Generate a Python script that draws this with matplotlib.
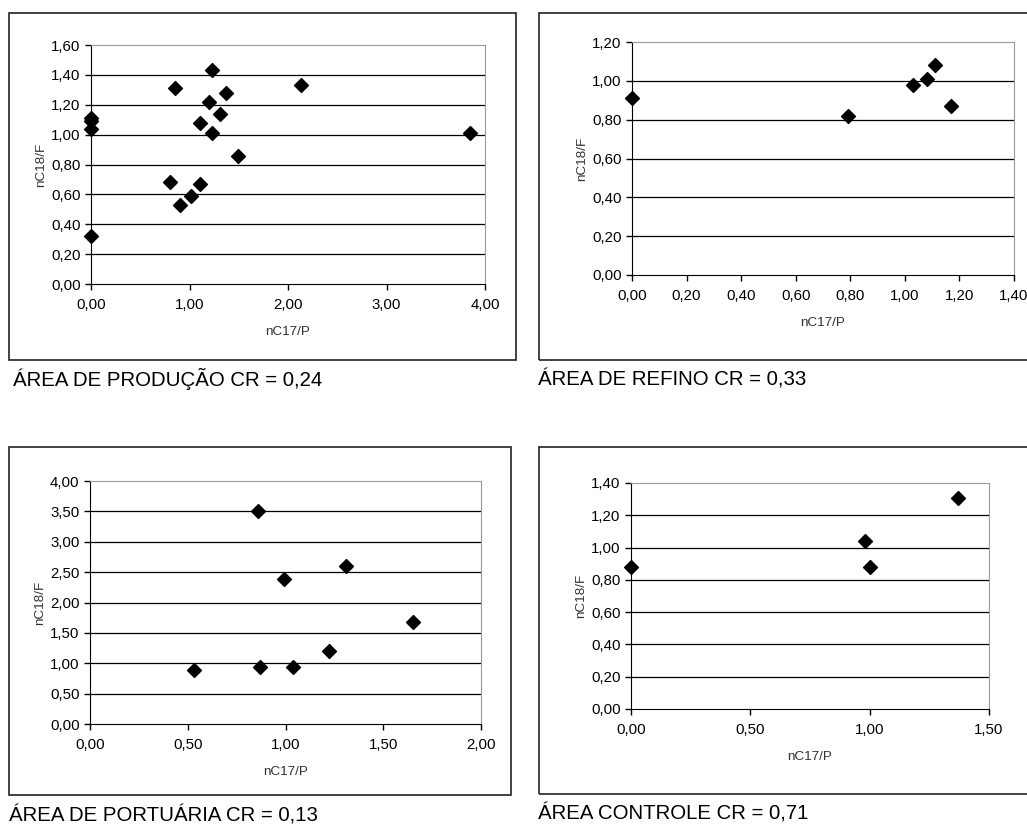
import matplotlib.pyplot as plt
from matplotlib.patches import Rectangle
from matplotlib.ticker import FuncFormatter

plt.rcParams["font.family"] = ["Liberation Sans", "DejaVu Sans"]

# ÁREA DE PRODUÇÃO
prod_x = [0.00, 0.00, 0.00, 0.00, 0.80, 0.85, 0.90, 1.02, 1.11, 1.11,
          1.20, 1.23, 1.23, 1.31, 1.37, 1.49, 2.13, 3.85]
prod_y = [0.32, 1.04, 1.09, 1.11, 0.68, 1.31, 0.53, 0.59, 1.08, 0.67,
          1.22, 1.43, 1.01, 1.14, 1.28, 0.86, 1.33, 1.01]

# ÁREA DE REFINO
ref_x = [0.00, 0.79, 1.03, 1.08, 1.11, 1.17]
ref_y = [0.91, 0.82, 0.98, 1.01, 1.08, 0.87]

# ÁREA DE PORTUÁRIA
port_x = [0.53, 0.86, 0.87, 0.99, 1.04, 1.22, 1.31, 1.65]
port_y = [0.89, 3.50, 0.94, 2.38, 0.94, 1.20, 2.60, 1.68]

# ÁREA CONTROLE
ctrl_x = [0.00, 0.98, 1.00, 1.37]
ctrl_y = [0.88, 1.04, 0.88, 1.31]

captions = [
    "ÁREA DE PRODUÇÃO CR = 0,24",
    "ÁREA DE REFINO CR = 0,33",
    "ÁREA DE PORTUÁRIA CR = 0,13",
    "ÁREA CONTROLE CR = 0,71",
]

prod_xticks = [0, 1, 2, 3, 4]
prod_yticks = [0.0, 0.2, 0.4, 0.6, 0.8, 1.0, 1.2, 1.4, 1.6]
ref_xticks = [0.0, 0.2, 0.4, 0.6, 0.8, 1.0, 1.2, 1.4]
ref_yticks = [0.0, 0.2, 0.4, 0.6, 0.8, 1.0, 1.2]
port_xticks = [0.0, 0.5, 1.0, 1.5, 2.0]
port_yticks = [0.0, 0.5, 1.0, 1.5, 2.0, 2.5, 3.0, 3.5, 4.0]
ctrl_xticks = [0.0, 0.5, 1.0, 1.5]
ctrl_yticks = [0.0, 0.2, 0.4, 0.6, 0.8, 1.0, 1.2, 1.4]

W, H = 1027, 824
fig = plt.figure(figsize=(W / 100, H / 100), dpi=100)

comma = FuncFormatter(lambda v, p: f"{v:.2f}".replace(".", ","))


def px_rect(x0, y0, x1, y1):
    # pixel box (top-left origin) -> figure fraction
    return [x0 / W, 1 - y1 / H, (x1 - x0) / W, (y1 - y0) / H]


panels = [
    # axes box px, outer box px, caption pos px, data, ticks
    ((91, 45, 485, 284), (9, 13, 516, 360), (13, 379), prod_x, prod_y, prod_xticks, prod_yticks),
    ((632, 42, 1014, 275), (539, 13, 1032, 360), (538, 380), ref_x, ref_y, ref_xticks, ref_yticks),
    ((90, 481, 481, 724), (9, 447, 511, 795), (9, 815), port_x, port_y, port_xticks, port_yticks),
    ((631, 483, 989, 709), (539, 447, 1032, 794), (538, 813), ctrl_x, ctrl_y, ctrl_xticks, ctrl_yticks),
]

for i, (abox, obox, cpos, xs, ys, xt, yt) in enumerate(panels):

    fig.add_artist(Rectangle(
        (obox[0] / W, 1 - obox[3] / H),
        (obox[2] - obox[0]) / W,
        (obox[3] - obox[1]) / H,
        transform=fig.transFigure,
        fill=False,
        edgecolor="#222222",
        linewidth=1.2
    ))

    ax = fig.add_axes(px_rect(*abox))

    for y in yt[1:-1]:
        ax.axhline(y, color="black", linewidth=0.9, zorder=1)

    ax.scatter(xs, ys, marker="D", s=50, color="black", zorder=3,
               clip_on=False)

    ax.set_xlim(xt[0], xt[-1])
    ax.set_ylim(yt[0], yt[-1])
    ax.set_xticks(xt)
    ax.set_yticks(yt)
    ax.xaxis.set_major_formatter(comma)
    ax.yaxis.set_major_formatter(comma)

    ax.tick_params(axis="both", direction="out", length=4, width=1,
                   labelsize=10.8, colors="black")
    ax.tick_params(axis="x", pad=6)
    ax.tick_params(axis="y", pad=3.5)

    ax.spines["top"].set_color("#999999")
    ax.spines["right"].set_color("#999999")
    ax.spines["left"].set_color("black")
    ax.spines["bottom"].set_color("black")

    ax.set_xlabel("nC17/P", fontsize=9.7, color="#333333", labelpad=10.5)
    ax.set_ylabel("nC18/F", fontsize=9.7, color="#333333", labelpad=3)

    fig.text(cpos[0] / W, 1 - cpos[1] / H, captions[i],
             fontsize=14.7, ha="left", va="center")

plt.savefig("out.png", dpi=100)
